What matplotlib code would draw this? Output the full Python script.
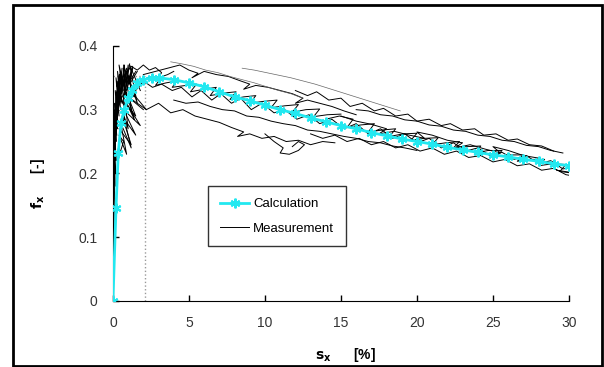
import numpy as np
import matplotlib
matplotlib.use("Agg")
import matplotlib.pyplot as plt
from matplotlib.patches import Rectangle

plt.rcParams['font.family'] = ['Liberation Sans', 'DejaVu Sans']

# ---- Calculation curve ----
calc_s = [0, 0.2, 0.35, 0.53, 0.75, 1.0, 1.23, 1.56, 2.0, 2.6, 3, 4, 5, 6, 7, 8, 9,
          10, 11, 12, 13, 14, 15, 16, 17, 18, 19, 20, 21, 22, 23, 24, 25, 26, 27, 28, 29, 30]
calc_f = [0, 0.145, 0.232, 0.279, 0.300, 0.318, 0.331, 0.341, 0.347, 0.350, 0.350, 0.347,
          0.342, 0.336, 0.328, 0.320, 0.314, 0.307, 0.300, 0.294, 0.287, 0.281, 0.275,
          0.270, 0.264, 0.259, 0.254, 0.250, 0.246, 0.241, 0.237, 0.233, 0.229, 0.226,
          0.222, 0.219, 0.215, 0.212]

# ---- Measurement strokes ----
m1_s = [0.3,0.6,1.0,1.5,2.0,2.6,3.2,3.9,4.5,5.2,5.8,6.5,7.1,7.8,8.4,9.1,9.8,10.6,11.3,12.1,12.9,13.6,14.4,15.2,16.0,16.8,17.6,18.4,19.2,20.0,20.8,21.6,22.4,23.2,24.0,24.8,25.6,26.4,27.2,28.0,28.8,29.6,30.3]
m1_f = [0.30,0.32,0.335,0.33,0.345,0.335,0.34,0.33,0.335,0.32,0.33,0.315,0.325,0.31,0.318,0.30,0.31,0.295,0.30,0.285,0.292,0.278,0.285,0.27,0.278,0.262,0.27,0.255,0.262,0.248,0.255,0.24,0.248,0.235,0.24,0.228,0.233,0.222,0.228,0.215,0.22,0.207,0.21]
m2_s = [2.0,2.8,3.6,4.4,5.0,5.6,5.2,6.0,6.8,7.6,8.4,9.0,8.6,9.4,10.2,11.0,11.8,12.5,12.0,12.8,13.6,14.4,15.2,16.0]
m2_f = [0.355,0.36,0.365,0.37,0.362,0.357,0.35,0.36,0.355,0.352,0.345,0.34,0.332,0.338,0.335,0.33,0.325,0.318,0.31,0.315,0.31,0.305,0.298,0.292]
m3_s = [1.5,2.2,3.0,3.8,4.6,5.4,6.2,7.0,7.8,8.6,8.2,9.0,9.8,10.6,11.4,12.2,13.0,13.8,14.6]
m3_f = [0.32,0.30,0.31,0.295,0.30,0.29,0.285,0.28,0.272,0.265,0.258,0.262,0.255,0.258,0.25,0.252,0.245,0.25,0.248]
m4_s = [3.8,4.5,5.3,6.1,6.9,7.7,8.5,9.3,10.1,10.9,11.7,12.5]
m4_f = [0.375,0.372,0.368,0.362,0.358,0.352,0.347,0.342,0.336,0.33,0.325,0.318]
m5_s = [8.5,9.3,10.1,10.9,11.7,12.5,13.3,14.1,14.9,15.7,16.5,17.3,18.1,18.9]
m5_f = [0.365,0.362,0.358,0.354,0.35,0.345,0.34,0.334,0.328,0.322,0.316,0.31,0.304,0.298]
m6_s = [12.0,12.8,13.4,14.2,15.0,15.6,16.4,17.2,17.8,18.6,19.4,20.0,20.8,21.6,22.2,23.0,23.8,24.4,25.2,26.0,26.6,27.4,28.2,29.0]
m6_f = [0.33,0.322,0.328,0.315,0.318,0.305,0.31,0.298,0.302,0.29,0.293,0.282,0.285,0.275,0.278,0.268,0.27,0.26,0.262,0.252,0.254,0.245,0.243,0.235]
m7_s = [13.0,13.8,14.6,15.4,16.2,17.0,17.8,18.6,19.4,20.2,21.0,21.8,22.6,23.4,24.2,25.0,25.8,26.6,27.4,28.2,29.0,29.8,30.5,30.0,29.2]
m7_f = [0.262,0.255,0.26,0.25,0.255,0.245,0.25,0.24,0.245,0.235,0.24,0.23,0.235,0.225,0.228,0.218,0.222,0.212,0.215,0.205,0.208,0.198,0.195,0.202,0.205]
m8_s = [15.0,16.0,17.0,18.0,17.5,18.5,19.5,20.5,20.0,21.0,22.0,23.0,22.5,23.5,24.5,25.5,25.0,26.0,27.0,28.0]
m8_f = [0.29,0.282,0.277,0.27,0.262,0.266,0.26,0.255,0.265,0.26,0.252,0.248,0.24,0.245,0.238,0.232,0.242,0.236,0.228,0.224]
m9_s = [10.0,10.6,11.2,11.0,11.6,12.2,12.6,12.2,11.8]
m9_f = [0.262,0.25,0.24,0.232,0.23,0.236,0.245,0.25,0.242]
m10_s = [0.0,0.05,0.1,0.08,0.15,0.12,0.2,0.18,0.3,0.25,0.4,0.35,0.6,0.5,0.8,0.7,1.0,0.9,1.3,1.1,1.6]
m10_f = [0.0,0.1,0.17,0.21,0.24,0.27,0.29,0.25,0.31,0.28,0.33,0.3,0.35,0.32,0.36,0.31,0.37,0.33,0.365,0.34,0.36]
m11_s = [0.3,0.7,0.4,0.9,0.5,1.2,0.6,1.0,0.8,1.5,1.0,2.0]
m11_f = [0.22,0.25,0.26,0.23,0.28,0.24,0.3,0.27,0.31,0.29,0.32,0.30]
m12_s = [0.0,0.05,0.02,0.1,0.05,0.15,0.08,0.2,0.1,0.3,0.15,0.4,0.2,0.5,0.3,0.6,0.25,0.8,0.4,1.0,0.5,1.2,0.7,1.4,0.9,1.6,1.1,1.8]
m12_f = [0.0,0.12,0.18,0.22,0.26,0.20,0.29,0.25,0.31,0.27,0.33,0.29,0.35,0.30,0.36,0.31,0.34,0.30,0.37,0.31,0.36,0.30,0.37,0.32,0.36,0.31,0.37,0.33]
m13_s = [0.0,0.1,0.02,0.15,0.05,0.2,0.08,0.25]
m13_f = [0.15,0.2,0.24,0.18,0.28,0.22,0.30,0.26]
m14_s = [1.8,2.5,3.1,2.8,3.5,4.2,3.9,4.8,5.5,5.1,6.0,6.8,6.4,7.3,8.1,7.7,8.6,9.4,9.0,9.9,10.8,10.4,11.3,12.2,11.8,12.7,13.6,13.2,14.1,15.0]
m14_f = [0.345,0.352,0.348,0.338,0.342,0.345,0.335,0.338,0.34,0.328,0.332,0.335,0.322,0.326,0.328,0.316,0.32,0.322,0.31,0.313,0.315,0.303,0.306,0.308,0.296,0.3,0.301,0.289,0.292,0.293]
m15_s = [14.0,14.9,15.8,15.4,16.3,17.2,16.8,17.7,18.6,18.2,19.1,20.0,19.6,20.5,21.4,21.0,21.9,22.8,22.4,23.3,24.2,23.8,24.7,25.6,25.2,26.1,27.0,26.6,27.5,28.4,28.0,28.9,29.8,29.4,30.4]
m15_f = [0.285,0.29,0.285,0.272,0.276,0.278,0.265,0.268,0.27,0.258,0.262,0.263,0.252,0.255,0.256,0.245,0.248,0.25,0.24,0.242,0.243,0.232,0.236,0.236,0.226,0.229,0.229,0.219,0.222,0.222,0.212,0.215,0.214,0.203,0.2]
m16_s = [4.0,4.8,5.6,6.4,7.2,8.0,8.8,9.6,10.4,11.2,12.0,12.8,13.6,14.4,15.2,16.0,16.8,17.6,18.4,19.2,20.0]
m16_f = [0.315,0.31,0.312,0.305,0.3,0.298,0.29,0.288,0.282,0.278,0.275,0.268,0.266,0.262,0.258,0.255,0.25,0.248,0.243,0.24,0.236]
m17_s = [16.0,16.8,17.6,18.4,19.2,20.0,20.8,21.6,22.4,23.2,24.0,24.8,25.6,26.4,27.2,28.0,28.8,29.6]
m17_f = [0.3,0.298,0.292,0.29,0.284,0.282,0.276,0.274,0.268,0.266,0.26,0.258,0.252,0.25,0.244,0.242,0.236,0.232]
m18_s = [0.02,0.08,0.04,0.12,0.06,0.16,0.1,0.22,0.14,0.28,0.18,0.34,0.22,0.42,0.3,0.5,0.36,0.6,0.45,0.75,0.55,0.9,0.7,1.1,0.85,1.3,1.0,1.5]
m18_f = [0.16,0.24,0.19,0.27,0.22,0.3,0.25,0.32,0.27,0.33,0.29,0.345,0.3,0.355,0.31,0.36,0.32,0.365,0.31,0.37,0.325,0.365,0.33,0.372,0.335,0.368,0.34,0.36]
m19_s = [0.4,1.2,0.6,1.5,0.7,1.8,0.9,1.4,1.0,2.2]
m19_f = [0.27,0.245,0.29,0.26,0.3,0.275,0.31,0.285,0.32,0.30]
m20_s = [0.8,1.2,1.6,2.0,2.4,2.8,3.2,3.0,3.6,4.0]
m20_f = [0.355,0.368,0.362,0.37,0.362,0.366,0.358,0.35,0.355,0.36]

meas = [(m1_s, m1_f), (m2_s, m2_f), (m3_s, m3_f), (m6_s, m6_f), (m7_s, m7_f),
        (m8_s, m8_f), (m9_s, m9_f), (m10_s, m10_f), (m11_s, m11_f), (m12_s, m12_f),
        (m13_s, m13_f), (m14_s, m14_f), (m15_s, m15_f), (m16_s, m16_f),
        (m17_s, m17_f), (m18_s, m18_f), (m19_s, m19_f), (m20_s, m20_f)]
meas_faint = [(m4_s, m4_f), (m5_s, m5_f)]

peak_s = 2.1
peak_f = 0.352

x_ticks = [0, 5, 10, 15, 20, 25, 30]
y_ticks = [0, 0.1, 0.2, 0.3, 0.4]
y_ticklabels = ['0', '0.1', '0.2', '0.3', '0.4']

fig = plt.figure(figsize=(6.04, 3.67), dpi=100)
ax = fig.add_axes([0.187, 0.180, 0.755, 0.695])

for i, (s, f) in enumerate(meas):
    ax.plot(s, f, color='black', lw=0.7,
            label='Measurement' if i == 0 else None, zorder=2)
for s, f in meas_faint:
    ax.plot(s, f, color='#666666', lw=0.5, zorder=2)

ax.plot([peak_s, peak_s], [0, peak_f], color='#999999', ls=':', lw=1, zorder=1)
ax.plot([0, peak_s], [peak_f, peak_f], color='#999999', ls=':', lw=1, zorder=1)

ax.plot(calc_s, calc_f, color='#22E8F0', lw=2, marker=(6, 2, 0), ms=7, mew=1.5,
        label='Calculation', zorder=3)

ax.set_xlim(0, 30)
ax.set_ylim(0, 0.4)
ax.set_xticks(x_ticks)
ax.set_yticks(y_ticks)
ax.set_yticklabels(y_ticklabels)
ax.spines['top'].set_visible(False)
ax.spines['right'].set_visible(False)
ax.tick_params(direction='in', length=4, width=1, labelsize=10, colors='black',
               labelcolor='#333333')
ax.tick_params(axis='x', pad=11)
ax.tick_params(axis='y', pad=11)
ax.set_xlabel(r'$\mathbf{s_x}$      [%]', fontsize=10, fontweight='bold')
ax.xaxis.set_label_coords(0.51, -0.175)
ax.set_ylabel(r'$\mathbf{f_x}$      [-]', fontsize=10, fontweight='bold')
ax.yaxis.set_label_coords(-0.145, 0.46)

h, l = ax.get_legend_handles_labels()
order = [l.index('Calculation'), l.index('Measurement')]
leg = ax.legend([h[i] for i in order], [l[i] for i in order],
                loc='lower left', bbox_to_anchor=(0.195, 0.188), fontsize=9.5,
                frameon=True, fancybox=False, edgecolor='black', handlelength=2.2,
                borderpad=0.9, labelspacing=0.9, handletextpad=0.3)
leg.get_frame().set_linewidth(1)

fig.patches.append(Rectangle((13/604, 1/367), 589/604, 361/367, transform=fig.transFigure,
                             fill=False, edgecolor='black', lw=2))

fig.savefig('out.png', dpi=100)
